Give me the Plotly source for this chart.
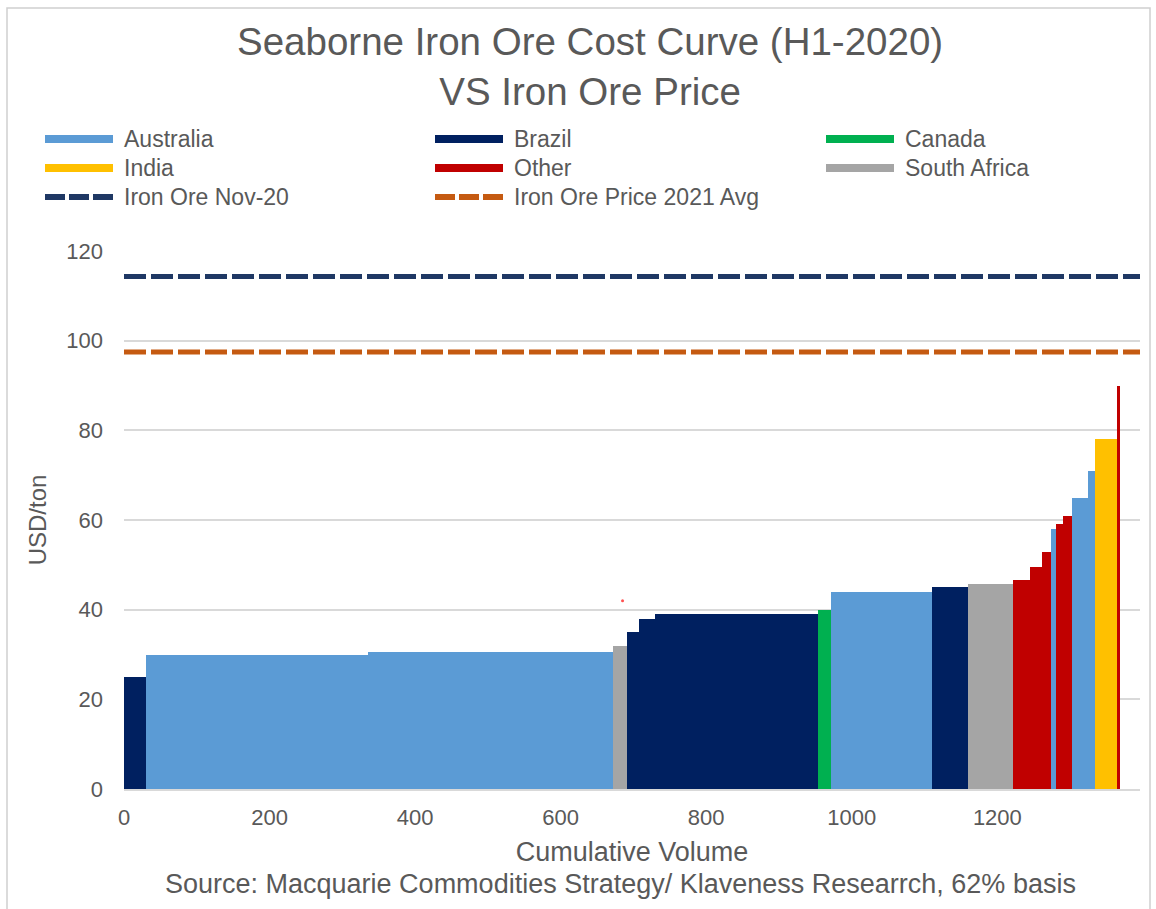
import plotly.graph_objects as go

# ---------------- data ----------------
# cumulative volume boundaries of each cost-curve segment
boundaries = [0, 30, 335, 672, 691, 707, 729, 953, 972, 1110, 1159, 1221,
              1245, 1261, 1274, 1281, 1290, 1302, 1324, 1334, 1364, 1369]
# cash cost (USD/ton) of each segment
costs = [25, 29.8, 30.6, 31.8, 35, 38, 39, 40, 44, 45, 45.8, 46.7,
         49.5, 52.8, 58, 59.2, 60.8, 64.8, 71, 78, 90]
# producing country of each segment
countries = ["Brazil", "Australia", "Australia", "South Africa", "Brazil", "Brazil",
             "Brazil", "Canada", "Australia", "Brazil", "South Africa", "Other",
             "Other", "Other", "Australia", "Other", "Other", "Australia",
             "Australia", "India", "Other"]

country_order = ["Australia", "Brazil", "Canada", "India", "Other", "South Africa"]
country_colors = {"Australia": "#5b9bd5", "Brazil": "#002060", "Canada": "#00b050",
                  "India": "#ffc000", "Other": "#c00000", "South Africa": "#a5a5a5"}

price_names = ["Iron Ore Nov-20", "Iron Ore Price 2021 Avg"]
price_values = [114.3, 97.5]
price_colors = ["#1f3864", "#c55a11"]

stray_x = [685]
stray_y = [42]

x_ticks = [0, 200, 400, 600, 800, 1000, 1200]
y_ticks = [0, 20, 40, 60, 80, 100, 120]
X_MAX = 1396
Y_MAX = 120

# ---------------- layout geometry (pixels) ----------------
WIDTH, HEIGHT = 1156, 909
L, R, T, B = 124, 1140, 251, 789
PW, PH = R - L, B - T


def pxx(px):
    return (px - L) / PW


def pxy(py):
    return (B - py) / PH


TXT = "#595959"
FONT = "Liberation Sans, Arial, sans-serif"

fig = go.Figure()

# cost-curve bars, one trace per country
for c in country_order:
    xs, ws, ys = [], [], []
    for i, cc in enumerate(countries):
        if cc == c:
            x0, x1 = boundaries[i], boundaries[i + 1]
            xs.append((x0 + x1) / 2)
            ws.append(x1 - x0)
            ys.append(costs[i])
    fig.add_trace(go.Bar(x=xs, y=ys, width=ws, name=c,
                         marker=dict(color=country_colors[c], line=dict(width=0)),
                         showlegend=False))

# price lines
for name, val, col in zip(price_names, price_values, price_colors):
    fig.add_trace(go.Scatter(x=[0, X_MAX], y=[val, val], mode="lines", name=name,
                             line=dict(color=col, width=5, dash="22px,5px"),
                             showlegend=False))

fig.add_trace(go.Scatter(x=stray_x, y=stray_y, mode="markers",
                         marker=dict(color="#ff5050", size=3), showlegend=False,
                         hoverinfo="skip"))

# ---------------- manual legend (Excel style wide swatches) ----------------
legend_items = [(n, country_colors[n], "solid") for n in country_order] + \
               [(n, c, "20px,4px") for n, c in zip(price_names, price_colors)]
col_x = [45, 435, 826]
row_y = [139, 168, 197]
sw_len = 68
shapes = []
annotations = []
for k, (name, col, dash) in enumerate(legend_items):
    r, cidx = divmod(k, 3)
    x0 = col_x[cidx]
    y0 = row_y[r]
    shapes.append(dict(type="line", xref="paper", yref="paper",
                       x0=pxx(x0), x1=pxx(x0 + sw_len), y0=pxy(y0), y1=pxy(y0),
                       line=dict(color=col, width=8 if dash == "solid" else 6, dash=dash)))
    annotations.append(dict(xref="paper", yref="paper", x=pxx(x0 + sw_len + 9), y=pxy(y0),
                            text=name, showarrow=False, xanchor="left", yanchor="middle",
                            font=dict(size=23, color=TXT, family=FONT)))

# outer frame
shapes.append(dict(type="rect", xref="paper", yref="paper", layer="below",
                   x0=pxx(7), x1=pxx(1150), y0=pxy(940), y1=pxy(8),
                   line=dict(color="#d0d0d0", width=1.5)))

# chart title (two lines)
annotations.append(dict(xref="paper", yref="paper", x=pxx(590), y=pxy(18),
                        text="Seaborne Iron Ore Cost Curve (H1-2020)<br>VS Iron Ore Price",
                        showarrow=False, xanchor="center", yanchor="top", align="center",
                        font=dict(size=38.5, color=TXT, family=FONT)))

# source note
annotations.append(dict(xref="paper", yref="paper", x=pxx(620), y=pxy(884),
                        text="Source: Macquarie Commodities Strategy/ Klaveness Researrch, 62% basis",
                        showarrow=False, xanchor="center", yanchor="middle",
                        font=dict(size=27, color=TXT, family=FONT)))

fig.update_layout(
    width=WIDTH, height=HEIGHT,
    margin=dict(l=L, r=WIDTH - R, t=T, b=HEIGHT - B, pad=0),
    paper_bgcolor="white", plot_bgcolor="white",
    barmode="overlay", bargap=0,
    font=dict(family=FONT, color=TXT),
    shapes=shapes, annotations=annotations,
    showlegend=False,
)

fig.update_xaxes(range=[0, X_MAX], tickvals=x_ticks, ticktext=[str(v) for v in x_ticks],
                 showgrid=False, zeroline=False, showline=True, linecolor="#d9d9d9",
                 linewidth=1.5, ticks="", ticklabelstandoff=8,
                 tickfont=dict(size=22, color=TXT, family=FONT),
                 title=dict(text="Cumulative Volume", standoff=13,
                            font=dict(size=27, color=TXT, family=FONT)))
fig.update_yaxes(range=[0, Y_MAX], tickvals=y_ticks, showgrid=True, gridcolor="#d9d9d9",
                 gridwidth=1.5, zeroline=False, showline=False, ticks="",
                 ticklabelstandoff=20,
                 tickfont=dict(size=22, color=TXT, family=FONT),
                 title=dict(text="USD/ton", standoff=12,
                            font=dict(size=24, color=TXT, family=FONT)))

fig.write_html("out.html")
